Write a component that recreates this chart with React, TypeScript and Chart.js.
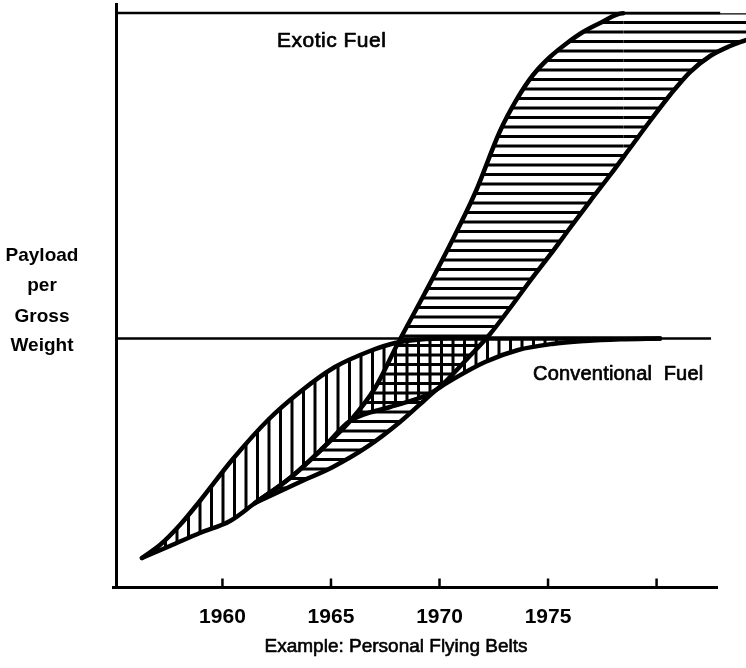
import React, { useEffect, useRef } from 'react';
import { Chart, registerables } from 'chart.js';

Chart.register(...registerables);

// ---- axis ranges / ticks ----
const xMin = 1955.05;
const xMax = 1984.12;
const axisEndYear = 1982.83;
const tickYears = [1960, 1965, 1970, 1975, 1980];
const tickLabels = ['1960', '1965', '1970', '1975', ''];

// ---- conventional fuel band (vertical hatching) ----
const convUpperYears = [1956.29, 1957.12, 1958.04, 1958.96, 1960.48, 1962.1, 1963.57, 1965.18, 1966.8, 1967.95, 1969.1, 1970.48, 1980.16];
const convUpperValues = [5.05, 7.27, 10.69, 14.8, 21.98, 28.66, 33.45, 37.72, 40.46, 41.83, 42.43, 42.58, 42.6];
const convLowerYears = [1956.29, 1957.58, 1958.96, 1960.35, 1961.5, 1963.11, 1964.63, 1965.88, 1967.72, 1969.42, 1970.48, 1972.1, 1973.62, 1975.18, 1976.71, 1978.32, 1980.16];
const convLowerValues = [5.05, 7.1, 9.32, 11.38, 14.46, 18.73, 23.87, 28.49, 30.88, 32.93, 35.33, 38.58, 40.63, 41.66, 42.17, 42.46, 42.6];

// ---- exotic fuel band (horizontal hatching) ----
const exoticUpperYears = [1961.5, 1963.11, 1964.63, 1965.88, 1967.03, 1968.09, 1969.33, 1970.48, 1971.64, 1972.79, 1973.57, 1974.31, 1975.09, 1975.88, 1976.61, 1977.4, 1978.46, 1981.08, 1984.12];
const exoticUpperValues = [14.46, 18.73, 23.87, 28.49, 34.13, 41.83, 50.39, 58.6, 67.49, 78.1, 83.58, 87.68, 90.76, 93.16, 95.04, 96.58, 98.24, 98.24, 98.24];
const exoticLowerYears = [1961.5, 1963.57, 1965.09, 1966.66, 1968.18, 1969.42, 1970.35, 1971.31, 1972.33, 1973.25, 1974.17, 1975.09, 1976.01, 1976.94, 1977.86, 1978.78, 1979.7, 1980.62, 1981.54, 1982.47, 1983.39, 1984.12];
const exoticLowerValues = [14.46, 18.05, 20.62, 24.04, 28.31, 32.42, 35.5, 39.26, 43.37, 47.82, 52.44, 56.89, 61.51, 66.12, 70.57, 75.19, 79.81, 84.26, 88.19, 90.93, 92.64, 93.67];

// ---- limit lines ----
const convLimitYears = [1955.05, 1982.51];
const convLimitValue = 42.6;
const exoticLimitYears = [1955.05, 1982.93];
const exoticLimitValue = 98.3;
const exoticOutlineEndYear = 1978.46;

// ---- texts ----
const exoticLabel = 'Exotic Fuel';
const convLabel = 'Conventional  Fuel';
const yTitleLines = ['Payload', 'per', 'Gross', 'Weight'];
const caption = 'Example: Personal Flying Belts';

const FONT = '"Liberation Sans", Arial, Helvetica, sans-serif';

const toPoints = (xs: number[], ys: number[]) => xs.map((x, i) => ({ x, y: ys[i] }));

function makeVerticalPattern(ctx: CanvasRenderingContext2D) {
  const c = document.createElement('canvas');
  c.width = 23;
  c.height = 4;
  const g = c.getContext('2d')!;
  g.fillStyle = '#000';
  g.fillRect(3, 0, 3, 4);
  g.fillRect(14.5, 0, 3, 4);
  return ctx.createPattern(c, 'repeat')!;
}

function makeHorizontalPattern(ctx: CanvasRenderingContext2D) {
  const c = document.createElement('canvas');
  c.width = 4;
  c.height = 19;
  const g = c.getContext('2d')!;
  g.fillStyle = '#000';
  g.fillRect(0, 2, 4, 3);
  g.fillRect(0, 11.5, 4, 3);
  return ctx.createPattern(c, 'repeat')!;
}

function heavyText(ctx: CanvasRenderingContext2D, s: string, x: number, y: number, w: number) {
  ctx.fillText(s, x, y);
  if (w > 0) {
    ctx.lineWidth = w;
    ctx.strokeText(s, x, y);
  }
}

const decorPlugin = {
  id: 'decor',
  afterDatasetsDraw(chart: any) {
    const { ctx, chartArea } = chart;
    const xs = chart.scales.x;
    const ys = chart.scales.y;
    const x0 = xs.getPixelForValue(xMin);
    const y0 = ys.getPixelForValue(0);
    const xEnd = xs.getPixelForValue(axisEndYear);
    ctx.save();
    ctx.strokeStyle = '#000';
    ctx.fillStyle = '#000';
    ctx.lineJoin = 'round';
    // left axis
    ctx.lineWidth = 3;
    ctx.beginPath();
    ctx.moveTo(x0 + 1.5, chartArea.top);
    ctx.lineTo(x0 + 1.5, y0 + 1.5);
    ctx.stroke();
    // bottom axis
    ctx.beginPath();
    ctx.moveTo(x0 - 3, y0);
    ctx.lineTo(xEnd, y0);
    ctx.stroke();
    // ticks + labels
    ctx.font = `bold 21px ${FONT}`;
    ctx.textAlign = 'center';
    ctx.textBaseline = 'alphabetic';
    tickYears.forEach((t, i) => {
      const px = xs.getPixelForValue(t);
      ctx.lineWidth = 2.5;
      ctx.beginPath();
      ctx.moveTo(px, y0);
      ctx.lineTo(px, y0 - 9);
      ctx.stroke();
      if (tickLabels[i]) ctx.fillText(tickLabels[i], px, 623);
    });
    // caption
    ctx.font = `19px ${FONT}`;
    heavyText(ctx, caption, 396, 651.5, 0.6);
    // y title
    ctx.font = `bold 19px ${FONT}`;
    const baselines = [261, 291, 322, 351];
    yTitleLines.forEach((s, i) => ctx.fillText(s, 42, baselines[i]));
    // series labels
    ctx.textAlign = 'left';
    (ctx as any).letterSpacing = '0.5px';
    ctx.font = `21px ${FONT}`;
    heavyText(ctx, exoticLabel, 277, 47, 0.7);
    (ctx as any).letterSpacing = '0.2px';
    ctx.font = `20px ${FONT}`;
    heavyText(ctx, convLabel, 533, 380, 0.7);
    (ctx as any).letterSpacing = '0px';
    ctx.restore();
  },
};

export default function App() {
  const ref = useRef<HTMLCanvasElement | null>(null);
  useEffect(() => {
    const canvas = ref.current!;
    const ctx = canvas.getContext('2d')!;
    const vPat = makeVerticalPattern(ctx);
    const hPat = makeHorizontalPattern(ctx);
    const outline = {
      borderColor: '#000',
      borderWidth: 4.5,
      pointRadius: 0,
      cubicInterpolationMode: 'monotone' as const,
      borderCapStyle: 'round' as const,
      borderJoinStyle: 'round' as const,
    };
    const chart = new Chart(canvas, {
      type: 'line',
      data: {
        datasets: [
          { ...outline, data: toPoints(convUpperYears, convUpperValues), fill: '+1', backgroundColor: vPat },
          { ...outline, data: toPoints(convLowerYears, convLowerValues), fill: false },
          {
            ...outline,
            data: toPoints(exoticUpperYears, exoticUpperValues),
            fill: '+1',
            backgroundColor: hPat,
            segment: {
              borderColor: (c: any) => (c.p0.parsed.x >= exoticOutlineEndYear - 0.01 ? 'rgba(0,0,0,0)' : undefined),
            },
          },
          { ...outline, data: toPoints(exoticLowerYears, exoticLowerValues), fill: false },
          {
            data: convLimitYears.map((x) => ({ x, y: convLimitValue })),
            borderColor: '#000', borderWidth: 2.5, pointRadius: 0, fill: false,
          },
          {
            data: exoticLimitYears.map((x) => ({ x, y: exoticLimitValue })),
            borderColor: '#000', borderWidth: 2.5, pointRadius: 0, fill: false,
          },
        ] as any,
      },
      options: {
        animation: false,
        responsive: false,
        maintainAspectRatio: false,
        layout: { padding: { left: 115, right: 0, top: 3, bottom: 80.5 } },
        plugins: { legend: { display: false }, tooltip: { enabled: false }, title: { display: false } },
        scales: {
          x: { type: 'linear', min: xMin, max: xMax, display: false },
          y: { type: 'linear', min: 0, max: 100, display: false },
        },
        events: [],
      },
      plugins: [decorPlugin],
    });
    return () => chart.destroy();
  }, []);
  return (
    <div style={{ position: 'absolute', left: 0, top: 0, width: 746, height: 668, background: '#fff' }}>
      <canvas ref={ref} width={746} height={668} />
    </div>
  );
}
